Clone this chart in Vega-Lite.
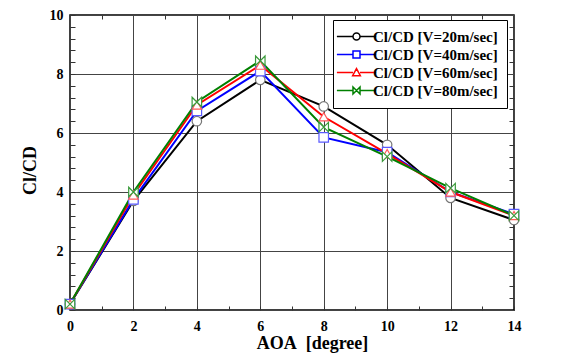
{
  "$schema": "https://vega.github.io/schema/vega-lite/v6.json",
  "width": 444,
  "height": 295,
  "autosize": {"type": "none"},
  "padding": {"left": 70, "top": 15, "right": 51, "bottom": 52},
  "background": "white",
  "config": {
    "view": {"stroke": "black", "strokeWidth": 1.5},
    "font": "Liberation Serif, Times New Roman, DejaVu Serif, serif",
    "axis": {"labelFont": "Liberation Serif, Times New Roman, DejaVu Serif, serif", "labelFontWeight": "bold", "labelFontSize": 14, "labelColor": "black", "titleFont": "Liberation Serif, Times New Roman, DejaVu Serif, serif", "titleFontWeight": "bold", "titleFontSize": 18, "titleColor": "black", "domain": false, "tickColor": "#333", "gridColor": "#444", "gridWidth": 1}
  },
  "data": {"values": [
    {"aoa": 0, "series": "Cl/CD [V=20m/sec]", "v": 0.2},
    {"aoa": 2, "series": "Cl/CD [V=20m/sec]", "v": 3.7},
    {"aoa": 4, "series": "Cl/CD [V=20m/sec]", "v": 6.4},
    {"aoa": 6, "series": "Cl/CD [V=20m/sec]", "v": 7.8},
    {"aoa": 8, "series": "Cl/CD [V=20m/sec]", "v": 6.9},
    {"aoa": 10, "series": "Cl/CD [V=20m/sec]", "v": 5.6},
    {"aoa": 12, "series": "Cl/CD [V=20m/sec]", "v": 3.8},
    {"aoa": 14, "series": "Cl/CD [V=20m/sec]", "v": 3.05},
    {"aoa": 0, "series": "Cl/CD [V=40m/sec]", "v": 0.2},
    {"aoa": 2, "series": "Cl/CD [V=40m/sec]", "v": 3.75},
    {"aoa": 4, "series": "Cl/CD [V=40m/sec]", "v": 6.75},
    {"aoa": 6, "series": "Cl/CD [V=40m/sec]", "v": 8.1},
    {"aoa": 8, "series": "Cl/CD [V=40m/sec]", "v": 5.85},
    {"aoa": 10, "series": "Cl/CD [V=40m/sec]", "v": 5.35},
    {"aoa": 12, "series": "Cl/CD [V=40m/sec]", "v": 4.0},
    {"aoa": 14, "series": "Cl/CD [V=40m/sec]", "v": 3.25},
    {"aoa": 0, "series": "Cl/CD [V=60m/sec]", "v": 0.2},
    {"aoa": 2, "series": "Cl/CD [V=60m/sec]", "v": 3.9},
    {"aoa": 4, "series": "Cl/CD [V=60m/sec]", "v": 6.95},
    {"aoa": 6, "series": "Cl/CD [V=60m/sec]", "v": 8.3},
    {"aoa": 8, "series": "Cl/CD [V=60m/sec]", "v": 6.55},
    {"aoa": 10, "series": "Cl/CD [V=60m/sec]", "v": 5.3},
    {"aoa": 12, "series": "Cl/CD [V=60m/sec]", "v": 4.0},
    {"aoa": 14, "series": "Cl/CD [V=60m/sec]", "v": 3.2},
    {"aoa": 0, "series": "Cl/CD [V=80m/sec]", "v": 0.2},
    {"aoa": 2, "series": "Cl/CD [V=80m/sec]", "v": 4.0},
    {"aoa": 4, "series": "Cl/CD [V=80m/sec]", "v": 7.05},
    {"aoa": 6, "series": "Cl/CD [V=80m/sec]", "v": 8.45},
    {"aoa": 8, "series": "Cl/CD [V=80m/sec]", "v": 6.2},
    {"aoa": 10, "series": "Cl/CD [V=80m/sec]", "v": 5.2},
    {"aoa": 12, "series": "Cl/CD [V=80m/sec]", "v": 4.13},
    {"aoa": 14, "series": "Cl/CD [V=80m/sec]", "v": 3.2}
  ]},
  "resolve": {"scale": {"shape": "independent", "stroke": "independent"}},
  "layer": [
    {
      "mark": {"type": "line", "strokeWidth": 2},
      "encoding": {
        "x": {"field": "aoa", "type": "quantitative", "scale": {"domain": [0, 14], "nice": false},
          "axis": {"orient": "bottom", "title": "AOA\u00a0 [degree]", "values": [0,1,2,3,4,5,6,7,8,9,10,11,12,13,14],
            "labelExpr": "datum.value % 2 === 0 ? format(datum.value, 'd') : ''", "tickSize": -4, "labelPadding": 13, "labelFlush": false,
            "gridOpacity": {"condition": {"test": "datum.value % 2 === 0", "value": 1}, "value": 0}, "titlePadding": 1, "titleX": 242}},
        "y": {"field": "v", "type": "quantitative", "scale": {"domain": [0, 10], "nice": false},
          "axis": {"orient": "left", "title": "Cl/CD", "values": [0,0.4,0.8,1.2,1.6,2,2.4,2.8,3.2,3.6,4,4.4,4.8,5.2,5.6,6,6.4,6.8,7.2,7.6,8,8.4,8.8,9.2,9.6,10],
            "labelExpr": "abs(datum.value/2 - round(datum.value/2)) < 0.01 ? format(datum.value, 'd') : ''", "tickSize": -5, "labelPadding": 12,
            "gridOpacity": {"condition": {"test": "abs(datum.value/2 - round(datum.value/2)) < 0.01", "value": 1}, "value": 0}, "titlePadding": 10, "titleY": 155}},
        "color": {"field": "series", "type": "nominal", "scale": {"range": ["black", "#0000ff", "#ff0000", "#008000"]}, "legend": null}
      }
    },
    {
      "mark": {"type": "point", "filled": true, "fill": "white", "size": 90, "strokeWidth": 1.2, "opacity": 1},
      "encoding": {
        "x": {"field": "aoa", "type": "quantitative",
          "axis": {"orient": "top", "title": null, "labels": false, "grid": false, "values": [1,3,5,7,9,11,13], "tickSize": -4}},
        "y": {"field": "v", "type": "quantitative",
          "axis": {"orient": "right", "title": null, "labels": false, "grid": false, "values": [0.4,0.8,1.2,1.6,2.4,2.8,3.2,3.6,4.4,4.8,5.2,5.6,6.4,6.8,7.2,7.6,8.4,8.8,9.2,9.6], "tickSize": -5}},
        "stroke": {"field": "series", "type": "nominal", "scale": {"range": ["#777777", "#5a5aff", "#ff5a5a", "#3a9a3a"]}, "legend": null},
        "shape": {"field": "series", "type": "nominal", "scale": {"range": ["circle", "square", "triangle-up", "M-1,-1L1,1L1,-1L-1,1Z"]}, "legend": null}
      }
    },
    {
      "transform": [{"filter": "false"}],
      "mark": {"type": "point", "filled": true, "fill": "white", "strokeWidth": 1.5, "opacity": 1},
      "encoding": {
        "stroke": {"field": "series", "type": "nominal",
          "scale": {"domain": ["Cl/CD [V=20m/sec]", "Cl/CD [V=40m/sec]", "Cl/CD [V=60m/sec]", "Cl/CD [V=80m/sec]"], "range": ["black", "#0000ff", "#ff0000", "#008000"]},
          "legend": {"title": null, "orient": "none", "legendX": 263, "legendY": 5, "fillColor": "white", "strokeColor": "black", "padding": 9,
            "labelFont": "Liberation Serif, Times New Roman, DejaVu Serif, serif", "labelFontWeight": "bold", "labelFontSize": 15, "labelColor": "black",
            "symbolSize": 49, "symbolOffset": 7, "labelOffset": 9, "rowPadding": 2, "symbolStrokeWidth": 1.5}},
        "shape": {"field": "series", "type": "nominal",
          "scale": {"domain": ["Cl/CD [V=20m/sec]", "Cl/CD [V=40m/sec]", "Cl/CD [V=60m/sec]", "Cl/CD [V=80m/sec]"],
            "range": ["M-5.6,0L-1,0M1,0L5.6,0M-1,0A1,1,0,1,1,1,0A1,1,0,1,1,-1,0Z", "M-5.6,0L-1,0M1,0L5.6,0M-1,-1L1,-1L1,1L-1,1Z", "M-5.6,0L-1,0M1,0L5.6,0M0,-1.1L1.1,0.9L-1.1,0.9Z", "M-5.6,0L-1,0M1,0L5.6,0M-1,-1L1,1L1,-1L-1,1Z"]}}
      }
    }
  ]
}
